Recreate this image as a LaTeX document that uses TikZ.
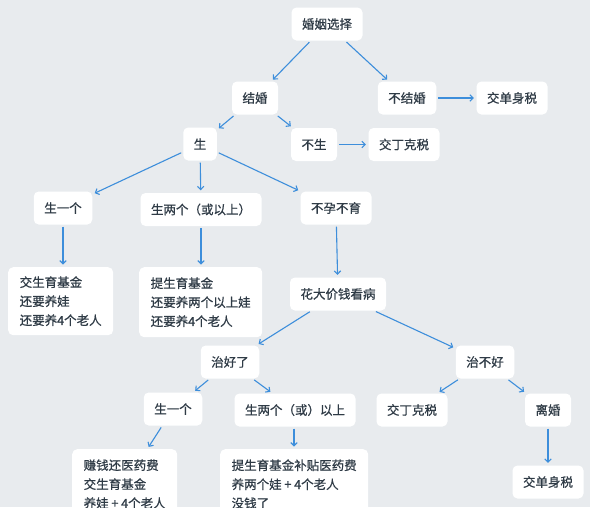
\documentclass[tikz,border=0pt]{standalone}
\usepackage{fontspec}
\setmainfont{Noto Sans CJK SC}[FakeBold=0.7]
\usetikzlibrary{arrows.meta}
\definecolor{bg}{HTML}{E8EBEE}
\definecolor{txt}{HTML}{2F3B46}
\definecolor{arrowblue}{HTML}{3D8EDB}
\tikzset{
  box/.style={fill=white, rounded corners=5pt, text=txt, inner xsep=10.5pt, inner ysep=0pt,
    minimum height=33pt, font=\fontsize{12.5pt}{19pt}\selectfont},
  multibox/.style={box, align=left, inner xsep=11.5pt, inner ysep=9pt, anchor=north west},
  arr/.style={draw=arrowblue, line width=1.1pt, -{Straight Barb[length=3.2pt,width=6.5pt]},
    shorten >=2.5pt, shorten <=2pt}
}
\begin{document}
\begin{tikzpicture}[x=1pt,y=-1pt]
\fill[bg] (0,0) rectangle (590,507);
\useasboundingbox (0,0) rectangle (590,507);

\node[box] (choice) at (327,24) {婚姻选择};
\node[box] (marry) at (255,98) {结婚};
\node[box] (nomarry) at (407,98) {不结婚};
\node[box] (tax1) at (512,98) {交单身税};
\node[box] (birth) at (200,144) {生};
\node[box] (nobirth) at (314,144.5) {不生};
\node[box] (dink1) at (404,144.5) {交丁克税};
\node[box] (one) at (63,208) {生一个};
\node[box] (two) at (201,209.5) {生两个（或以上）};
\node[box] (infert) at (336,208) {不孕不育};
\node[multibox, minimum height=68pt] (b1) at (8,267) {交生育基金\\还要养娃\\还要养4个老人};
\node[multibox, minimum height=70pt] (b2) at (139,267) {提生育基金\\还要养两个以上娃\\还要养4个老人};
\node[box] (cure) at (338,294) {花大价钱看病};
\node[box] (healed) at (230,362) {治好了};
\node[box] (unhealed) at (485,362) {治不好};
\node[box] (one2) at (173,409) {生一个};
\node[box] (two2) at (295,410) {生两个（或）以上};
\node[box] (dink2) at (412,410) {交丁克税};
\node[box] (divorce) at (548,410) {离婚};
\node[box] (tax2) at (548,482) {交单身税};
\node[multibox, minimum height=70pt] (b3) at (72,449) {赚钱还医药费\\交生育基金\\养娃 + 4个老人};
\node[multibox, minimum height=70pt] (b4) at (220,449) {提生育基金补贴医药费\\养两个娃 + 4个老人\\没钱了};

\draw[arr] (choice) -- (marry);
\draw[arr] (choice) -- (nomarry);
\draw[arr] (nomarry) -- (tax1);
\draw[arr] (marry) -- (birth);
\draw[arr] (marry) -- (nobirth);
\draw[arr] (nobirth) -- (dink1);
\draw[arr] (birth) -- (one);
\draw[arr] (birth) -- (two);
\draw[arr] (birth) -- (infert);
\draw[arr] (one.south) -- (one.south |- b1.north);
\draw[arr] (two.south) -- (two.south |- b2.north);
\draw[arr] (infert) -- (cure);
\draw[arr] (cure) -- (healed);
\draw[arr] (cure) -- (unhealed);
\draw[arr] (healed) -- (one2);
\draw[arr] (healed) -- (two2);
\draw[arr] (unhealed) -- (dink2);
\draw[arr] (unhealed) -- (divorce);
\draw[arr] (divorce) -- (tax2);
\draw[arr] (one2) -- (b3);
\draw[arr] (two2.south -| 294,0) -- (294,0 |- b4.north);
\end{tikzpicture}
\end{document}
